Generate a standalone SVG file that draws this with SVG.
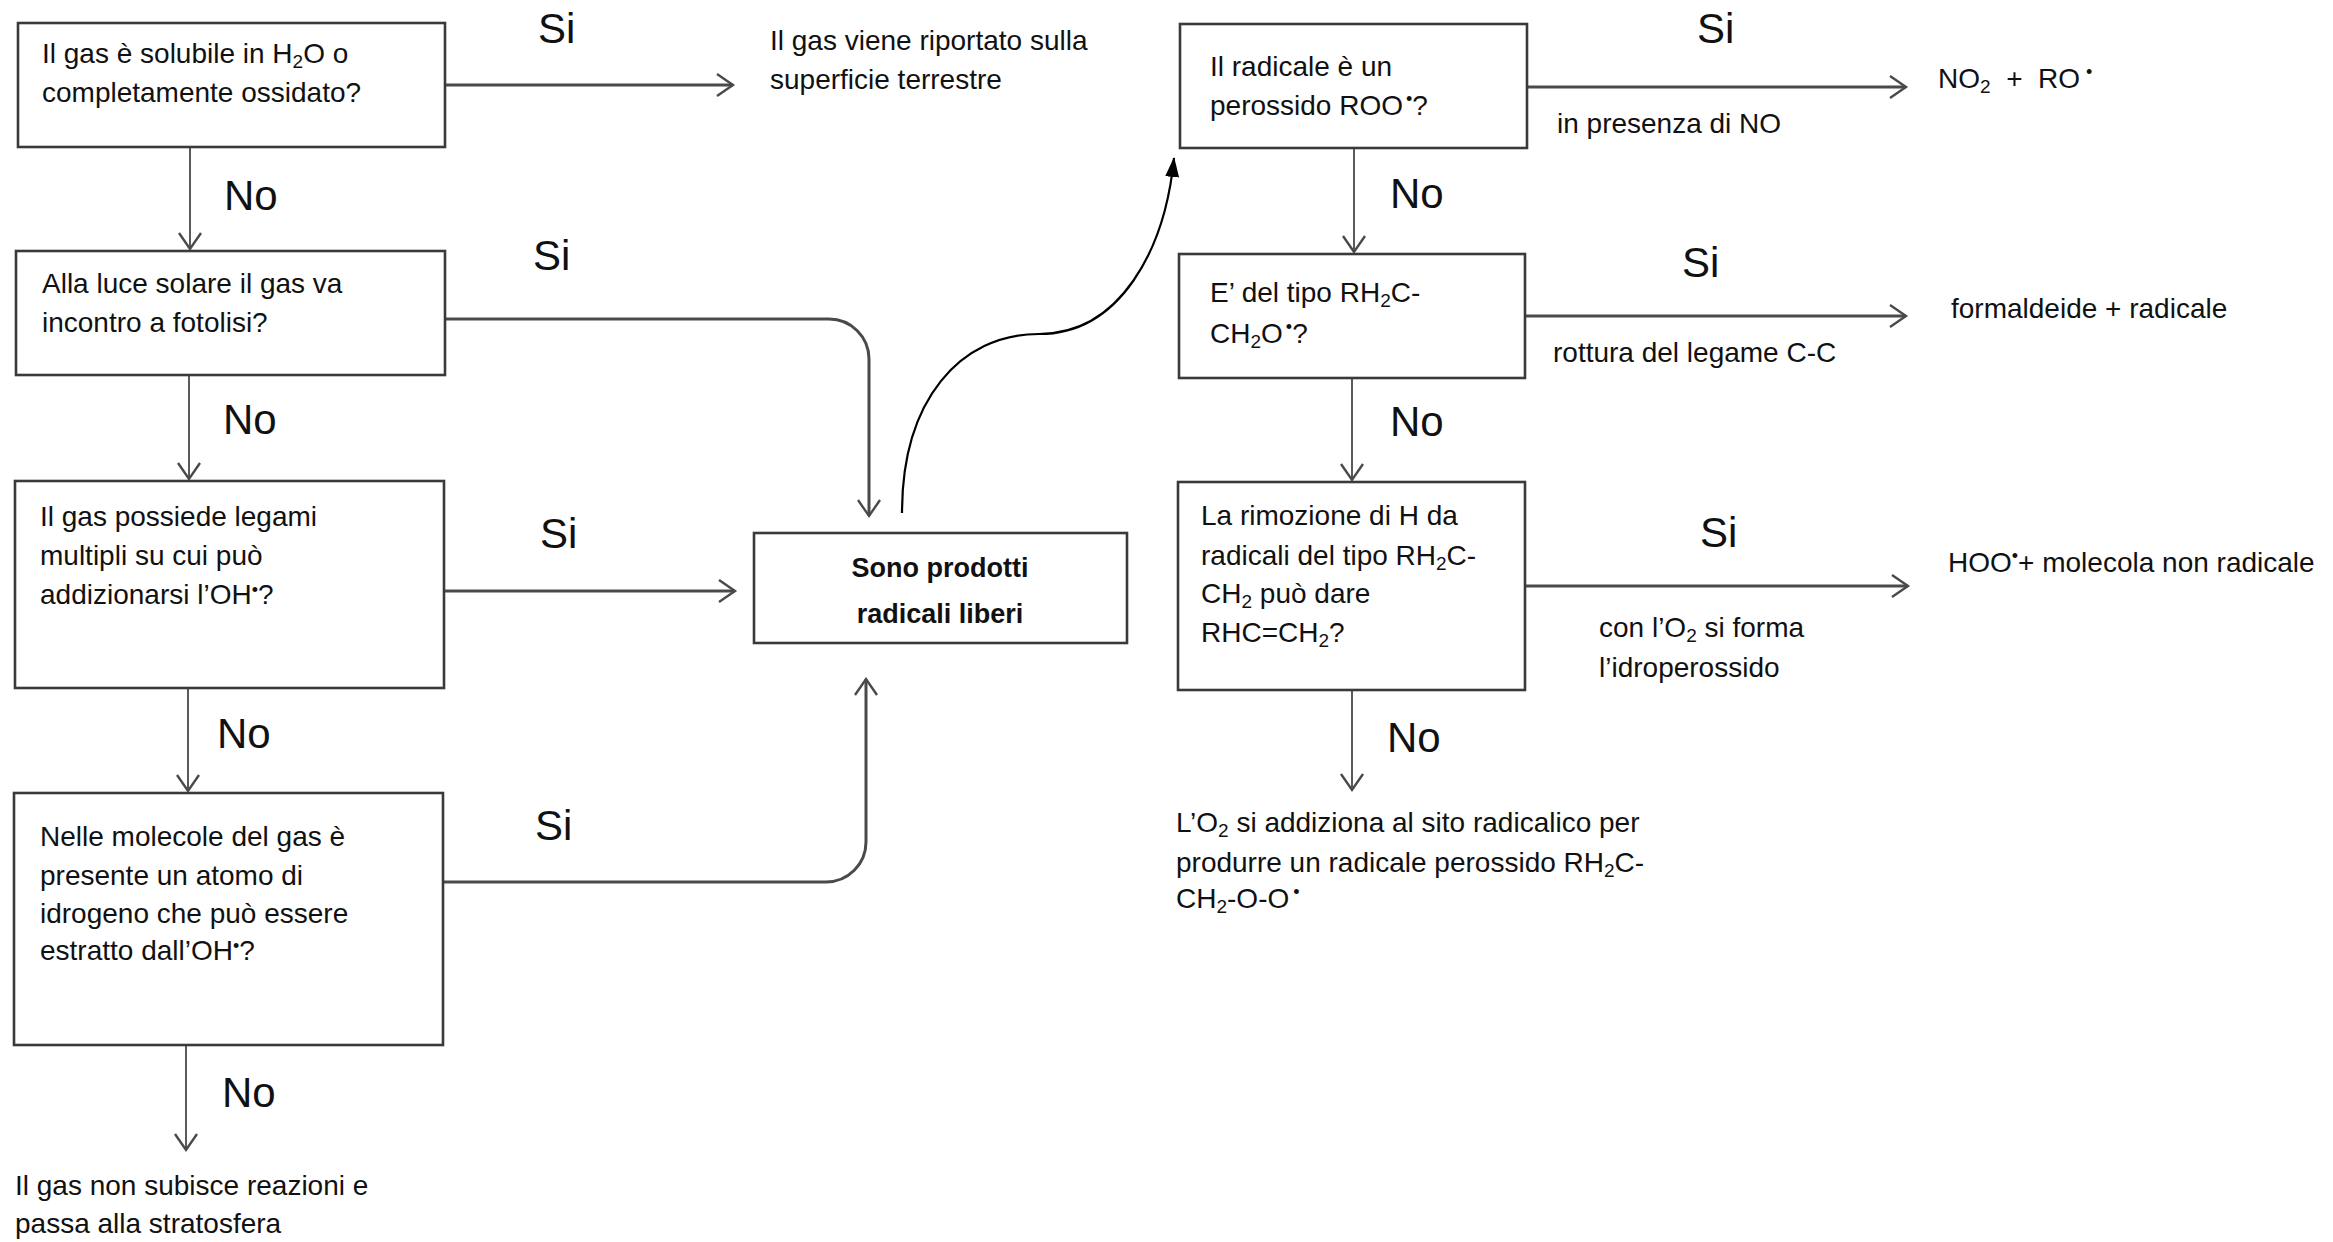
<svg xmlns="http://www.w3.org/2000/svg" width="2333" height="1242" viewBox="0 0 2333 1242">
<defs>
<style>
text{font-family:"Liberation Sans",Arial,sans-serif;fill:#111;}
.t{font-size:28px;}
.yn{font-size:42px;}
.b{font-size:27px;font-weight:bold;}
.box{fill:#fff;stroke:#3a3a3a;stroke-width:2.6;}
.v{fill:none;stroke:#5a5a5a;stroke-width:2;}
.h{fill:none;stroke:#4a4a4a;stroke-width:3;}
.cur{fill:none;stroke:#000;stroke-width:2.2;}
.sb{font-size:19px;}
.sp{font-size:18px;}
</style>
<marker id="ah" markerUnits="userSpaceOnUse" markerWidth="22" markerHeight="28" refX="19" refY="14" orient="auto" viewBox="0 0 22 28">
<path d="M3,3 L19,14 L3,25" fill="none" stroke="#4a4a4a" stroke-width="2.4"/>
</marker>
<marker id="af" markerUnits="userSpaceOnUse" markerWidth="20" markerHeight="14" refX="19" refY="7" orient="auto" viewBox="0 0 20 14">
<path d="M0,0 L20,7 L0,14 Z" fill="#000"/>
</marker>
</defs>
<rect width="2333" height="1242" fill="#fff"/>

<g id="connectors">
<path class="h" d="M446,85 H733" marker-end="url(#ah)"/>
<path class="v" d="M190,147 V249" marker-end="url(#ah)"/>
<path class="h" d="M446,319 H829 A40,40 0 0 1 869,359 V516" marker-end="url(#ah)"/>
<path class="v" d="M189,375 V479" marker-end="url(#ah)"/>
<path class="h" d="M444,591 H735" marker-end="url(#ah)"/>
<path class="v" d="M188,688 V791" marker-end="url(#ah)"/>
<path class="h" d="M443,882 H826 A40,40 0 0 0 866,842 V679" marker-end="url(#ah)"/>
<path class="v" d="M186,1045 V1150" marker-end="url(#ah)"/>
<path class="cur" d="M902,513 C902,400 960,334 1039,334 C1120,334 1165,250 1174,158" marker-end="url(#af)"/>
<path class="v" d="M1354,148 V252" marker-end="url(#ah)"/>
<path class="v" d="M1352,378 V480" marker-end="url(#ah)"/>
<path class="v" d="M1352,690 V790" marker-end="url(#ah)"/>
<path class="h" d="M1527,87 H1906" marker-end="url(#ah)"/>
<path class="h" d="M1525,316 H1906" marker-end="url(#ah)"/>
<path class="h" d="M1525,586 H1908" marker-end="url(#ah)"/>
<text class="yn" x="538" y="43">Si</text>
<text class="yn" x="224" y="210">No</text>
<text class="yn" x="533" y="270">Si</text>
<text class="yn" x="223" y="434">No</text>
<text class="yn" x="540" y="548">Si</text>
<text class="yn" x="217" y="748">No</text>
<text class="yn" x="535" y="840">Si</text>
<text class="yn" x="222" y="1107">No</text>
<text class="yn" x="1697" y="43">Si</text>
<text class="yn" x="1390" y="208">No</text>
<text class="yn" x="1682" y="277">Si</text>
<text class="yn" x="1390" y="436">No</text>
<text class="yn" x="1700" y="547">Si</text>
<text class="yn" x="1387" y="752">No</text>
<text class="t" x="1557" y="133">in presenza di NO</text>
<text class="t" x="1553" y="362">rottura del legame C-C</text>
<text class="t" x="1599" y="637">con l’O<tspan class="sb" baseline-shift="-5">2</tspan> si forma</text>
<text class="t" x="1599" y="677">l’idroperossido</text>
</g>

<g id="q1">
<rect class="box" x="18" y="23" width="427" height="124"/>
<text class="t" x="42" y="63">Il gas è solubile in H<tspan class="sb" baseline-shift="-5">2</tspan>O o</text>
<text class="t" x="42" y="102">completamente ossidato?</text>
</g>
<g id="q2">
<rect class="box" x="16" y="251" width="429" height="124"/>
<text class="t" x="42" y="293">Alla luce solare il gas va</text>
<text class="t" x="42" y="332">incontro a fotolisi?</text>
</g>
<g id="q3">
<rect class="box" x="15" y="481" width="429" height="207"/>
<text class="t" x="40" y="526">Il gas possiede legami</text>
<text class="t" x="40" y="565">multipli su cui può</text>
<text class="t" x="40" y="604">addizionarsi l’OH<tspan class="sp" baseline-shift="8">•</tspan>?</text>
</g>
<g id="q4">
<rect class="box" x="14" y="793" width="429" height="252"/>
<text class="t" x="40" y="846">Nelle molecole del gas è</text>
<text class="t" x="40" y="885">presente un atomo di</text>
<text class="t" x="40" y="923">idrogeno che può essere</text>
<text class="t" x="40" y="960">estratto dall’OH<tspan class="sp" baseline-shift="8">•</tspan>?</text>
</g>
<g id="out-surface">
<text class="t" x="770" y="50">Il gas viene riportato sulla</text>
<text class="t" x="770" y="89">superficie terrestre</text>
</g>
<g id="out-strato">
<text class="t" x="15" y="1195">Il gas non subisce reazioni e</text>
<text class="t" x="15" y="1233">passa alla stratosfera</text>
</g>
<g id="radicali">
<rect class="box" x="754" y="533" width="373" height="110"/>
<text class="b" x="940" y="577" text-anchor="middle">Sono prodotti</text>
<text class="b" x="940" y="623" text-anchor="middle">radicali liberi</text>
</g>
<g id="r1">
<rect class="box" x="1180" y="24" width="347" height="124"/>
<text class="t" x="1210" y="76">Il radicale è un</text>
<text class="t" x="1210" y="115">perossido ROO<tspan class="sp" baseline-shift="10" dx="3">•</tspan>?</text>
</g>
<g id="r2">
<rect class="box" x="1179" y="254" width="346" height="124"/>
<text class="t" x="1210" y="302">E’ del tipo RH<tspan class="sb" baseline-shift="-5">2</tspan>C-</text>
<text class="t" x="1210" y="343">CH<tspan class="sb" baseline-shift="-5">2</tspan>O<tspan class="sp" baseline-shift="10" dx="3">•</tspan>?</text>
</g>
<g id="r3">
<rect class="box" x="1178" y="482" width="347" height="208"/>
<text class="t" x="1201" y="525">La rimozione di H da</text>
<text class="t" x="1201" y="565">radicali del tipo RH<tspan class="sb" baseline-shift="-5">2</tspan>C-</text>
<text class="t" x="1201" y="603">CH<tspan class="sb" baseline-shift="-5">2</tspan> può dare</text>
<text class="t" x="1201" y="642">RHC=CH<tspan class="sb" baseline-shift="-5">2</tspan>?</text>
</g>
<g id="out-no2">
<text class="t" x="1938" y="88">NO<tspan class="sb" baseline-shift="-5">2</tspan>&#160; + &#160;RO<tspan class="sp" baseline-shift="10" dx="6">•</tspan></text>
</g>
<g id="out-formaldeide">
<text class="t" x="1951" y="318">formaldeide + radicale</text>
</g>
<g id="out-hoo">
<text class="t" x="1948" y="572">HOO<tspan class="sp" baseline-shift="10">•</tspan>+ molecola non radicale</text>
</g>
<g id="out-perossido">
<text class="t" x="1176" y="832">L’O<tspan class="sb" baseline-shift="-5">2</tspan> si addiziona al sito radicalico per</text>
<text class="t" x="1176" y="872">produrre un radicale perossido RH<tspan class="sb" baseline-shift="-5">2</tspan>C-</text>
<text class="t" x="1176" y="908">CH<tspan class="sb" baseline-shift="-5">2</tspan>-O-O<tspan class="sp" baseline-shift="10" dx="4">•</tspan></text>
</g>
</svg>
